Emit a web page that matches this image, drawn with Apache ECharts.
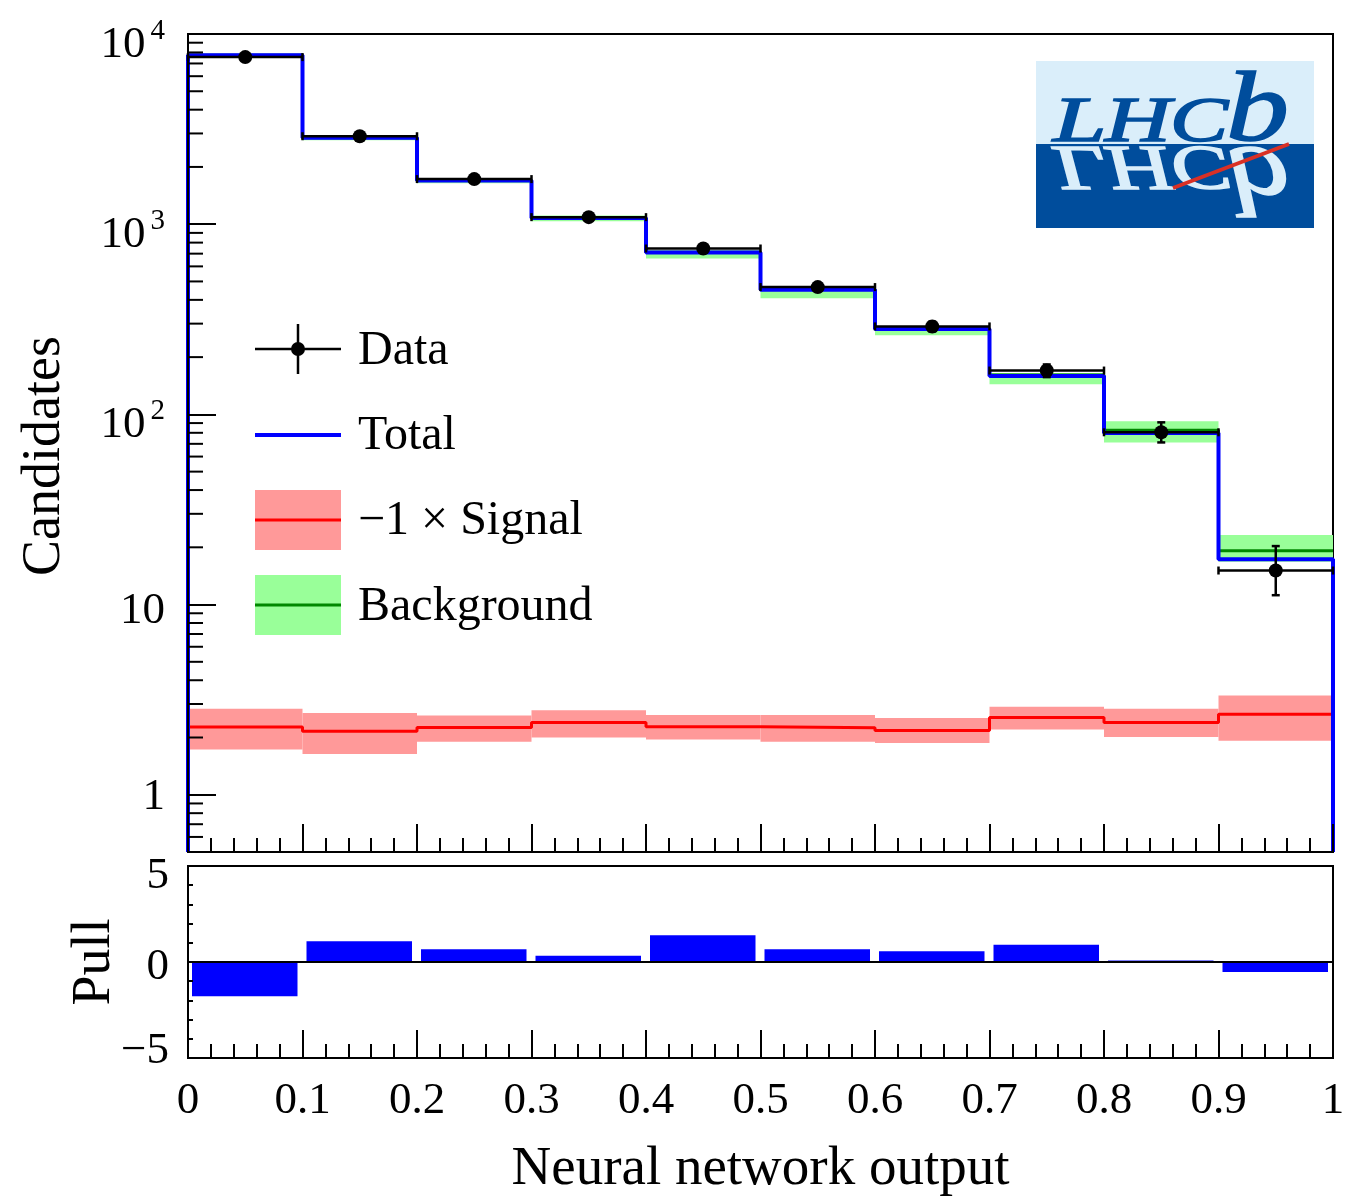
<!DOCTYPE html>
<html><head><meta charset="utf-8">
<script src="https://cdn.jsdelivr.net/npm/echarts@6/dist/echarts.min.js"></script>
<style>html,body{margin:0;padding:0;background:#fff}#c{width:1359px;height:1197px}</style>
</head><body><div id="c"></div>
<script>
const binEdges = [0, 0.1, 0.2, 0.3, 0.4, 0.5, 0.6, 0.7, 0.8, 0.9, 1.0];
const dataValues = [7560, 2900, 1726, 1089, 745, 467, 290, 170, 80.5, 15.1];
const dataErrLow = [7473, 2846, 1685, 1056, 718, 445, 273, 157, 71.2, 11.2];
const dataErrHigh = [7647, 2954, 1767, 1122, 772, 489, 307, 183, 90.8, 20.3];
const totalValues = [7720, 2848, 1698, 1077, 710, 452, 281, 159, 79.8, 17.3];
const backgroundValues = [7722, 2850, 1700, 1079, 712, 454, 283, 161, 82.4, 19.2];
const backgroundLow = [7570, 2760, 1640, 1035, 660, 408, 261, 144, 71.2, 16.8];
const backgroundHigh = [7880, 2930, 1750, 1110, 730, 466, 290, 165, 92, 23.2];
const signalValues = [2.27, 2.16, 2.26, 2.40, 2.28, 2.25, 2.18, 2.55, 2.40, 2.65];
const signalLow = [1.73, 1.64, 1.90, 2.00, 1.95, 1.90, 1.87, 2.20, 2.01, 1.92];
const signalHigh = [2.83, 2.69, 2.61, 2.78, 2.63, 2.63, 2.53, 2.90, 2.83, 3.33];
const pullValues = [-1.78, 1.08, 0.67, 0.33, 1.39, 0.66, 0.56, 0.90, 0.08, -0.52];
const xTickLabels = ['0', '0.1', '0.2', '0.3', '0.4', '0.5', '0.6', '0.7', '0.8', '0.9', '1'];
const yMinorTicks = [0.6, 0.7, 0.8, 0.9, 2, 3, 4, 5, 6, 7, 8, 9, 20, 30, 40, 50, 60, 70, 80, 90,
  200, 300, 400, 500, 600, 700, 800, 900, 2000, 3000, 4000, 5000, 6000, 7000, 8000, 9000];
const yMin = 0.5, yMax = 10000;

const FONT = '"Liberation Serif", "Times New Roman", serif';

function stepPoints(vals, drop) {
  const pts = [];
  if (drop) pts.push([binEdges[0], yMin]);
  for (let i = 0; i < vals.length; i++) {
    pts.push([binEdges[i], vals[i]]);
    pts.push([binEdges[i + 1], vals[i]]);
  }
  if (drop) pts.push([binEdges[vals.length], yMin]);
  return pts;
}
function bandData(lo, hi) {
  return lo.map((l, i) => [binEdges[i], binEdges[i + 1], l, hi[i]]);
}
function bandRender(color) {
  return function (params, api) {
    const p1 = api.coord([api.value(0), api.value(3)]);
    const p2 = api.coord([api.value(1), api.value(2)]);
    return { type: 'rect', shape: { x: p1[0], y: p1[1], width: p2[0] - p1[0], height: p2[1] - p1[1] }, style: { fill: color } };
  };
}

const chart = echarts.init(document.getElementById('c'), null, { renderer: 'canvas' });

const axisCommon = {
  axisLine: { show: true, onZero: false, lineStyle: { color: '#000', width: 2 } },
  axisTick: { show: true, inside: true, length: 28, lineStyle: { color: '#000', width: 2 } },
  splitLine: { show: false },
  z: 10
};

function logoLetter(ch, x, size, sx, yMid, color, mirror) {
  return { type: 'text', z: 101, x: x, y: 0, scaleX: sx, scaleY: mirror ? -1 : 1, originX: 0, originY: 144,
    style: { text: ch, x: 0, y: yMid, font: 'italic ' + size + 'px ' + FONT, fill: color,
      stroke: color, lineWidth: 1.6,
      textVerticalAlign: 'middle', verticalAlign: 'middle' } };
}
const logoDark = '#004d9c', logoLight = '#daeefa';

const option = {
  animation: false,
  backgroundColor: '#fff',
  grid: [
    { left: 188, top: 34, width: 1145, height: 818, show: true, borderColor: '#000', borderWidth: 2, containLabel: false, outerBoundsMode: 'none' },
    { left: 188, top: 866, width: 1145, height: 192, show: true, borderColor: '#000', borderWidth: 2, containLabel: false, outerBoundsMode: 'none' }
  ],
  xAxis: [
    Object.assign({}, axisCommon, {
      gridIndex: 0, type: 'value', min: 0, max: 1, interval: 0.1,
      axisLabel: { show: false },
      minorTick: { show: true, splitNumber: 5, length: 14, lineStyle: { color: '#000', width: 2 } }
    }),
    Object.assign({}, axisCommon, {
      gridIndex: 1, type: 'value', min: 0, max: 1, interval: 0.1,
      axisLabel: {
        show: true, margin: 21, color: '#000', fontSize: 45, fontFamily: FONT,
        formatter: v => xTickLabels[Math.round(v * 10)]
      },
      minorTick: { show: true, splitNumber: 5, length: 14, lineStyle: { color: '#000', width: 2 } },
      name: 'Neural network output', nameLocation: 'middle', nameGap: 84, nameMoveOverlap: false,
      nameTextStyle: { fontSize: 55, fontFamily: FONT, color: '#000' }
    })
  ],
  yAxis: [
    Object.assign({}, axisCommon, {
      gridIndex: 0, type: 'log', logBase: 10, min: yMin, max: yMax,
      axisLabel: {
        show: true, margin: 23, color: '#000', fontFamily: FONT, fontSize: 45,
        formatter: function (v) {
          const l = Math.log10(v), e = Math.round(l);
          if (Math.abs(l - e) > 1e-6) return '';
          if (e === 0) return '{o|1}';
          if (e === 1) return '{t|10}';
          return '{b|10}{s|' + e + '}';
        },
        rich: {
          o: { fontSize: 45, fontFamily: FONT, color: '#000', padding: [5, 0, 0, 0] },
          t: { fontSize: 45, fontFamily: FONT, color: '#000', padding: [14, 0, 0, 0] },
          b: { fontSize: 45, fontFamily: FONT, color: '#000', lineHeight: 45, padding: [22, 0, 0, 0] },
          s: { fontSize: 29, fontFamily: FONT, color: '#000', lineHeight: 29, padding: [5, 0, 0, 5], verticalAlign: 'top' }
        }
      },
      name: 'Candidates', nameLocation: 'middle', nameRotate: 90, nameGap: 116, nameMoveOverlap: false,
      nameTextStyle: { fontSize: 54, fontFamily: FONT, color: '#000', padding: [0, 26, 0, 0] }
    }),
    Object.assign({}, axisCommon, {
      gridIndex: 1, type: 'value', min: -5, max: 5, interval: 5,
      axisTick: { show: true, inside: true, length: 7, lineStyle: { color: '#000', width: 2 } },
      minorTick: { show: true, splitNumber: 5, length: 5, lineStyle: { color: '#000', width: 2 } },
      axisLabel: {
        show: true, margin: 19, color: '#000', fontFamily: FONT, fontSize: 45,
        formatter: v => v > 0 ? '{p|5}' : (v < 0 ? '{m|\u22125}' : '{z|0}'),
        rich: {
          p: { fontSize: 45, fontFamily: FONT, color: '#000', padding: [20, 0, 0, 0] },
          z: { fontSize: 45, fontFamily: FONT, color: '#000', padding: [10, 0, 0, 0] },
          m: { fontSize: 45, fontFamily: FONT, color: '#000', padding: [0, 0, 14, 0] }
        }
      },
      name: 'Pull', nameLocation: 'middle', nameRotate: 90, nameGap: 66, nameMoveOverlap: false,
      nameTextStyle: { fontSize: 54, fontFamily: FONT, color: '#000' }
    })
  ],
  series: [
    { name: 'SignalBand', type: 'custom', xAxisIndex: 0, yAxisIndex: 0, z: 2, clip: false,
      renderItem: bandRender('#ff9999'), encode: { x: [0, 1], y: [2, 3] }, data: bandData(signalLow, signalHigh) },
    { name: 'BackgroundBand', type: 'custom', xAxisIndex: 0, yAxisIndex: 0, z: 2, clip: false,
      renderItem: bandRender('#99ff99'), encode: { x: [0, 1], y: [2, 3] }, data: bandData(backgroundLow, backgroundHigh) },
    { name: 'Signal', type: 'line', xAxisIndex: 0, yAxisIndex: 0, z: 3, symbol: 'none', clip: false,
      lineStyle: { color: '#ff0000', width: 3 }, data: stepPoints(signalValues, false) },
    { name: 'Background', type: 'line', xAxisIndex: 0, yAxisIndex: 0, z: 3, symbol: 'none', clip: false,
      lineStyle: { color: '#008800', width: 3 }, data: stepPoints(backgroundValues, false) },
    { name: 'Total', type: 'line', xAxisIndex: 0, yAxisIndex: 0, z: 4, symbol: 'none', clip: false,
      lineStyle: { color: '#0000ff', width: 4 }, data: stepPoints(totalValues, true) },
    { name: 'DataErr', type: 'custom', xAxisIndex: 0, yAxisIndex: 0, z: 5, clip: false,
      encode: { x: 0, y: 1 },
      data: dataValues.map((v, i) => [(binEdges[i] + binEdges[i + 1]) / 2, v, dataErrLow[i], dataErrHigh[i], binEdges[i], binEdges[i + 1]]),
      renderItem: function (params, api) {
        const x = api.value(0), y = api.value(1);
        const c = api.coord([x, y]);
        const cl = api.coord([api.value(4), y]), ch = api.coord([api.value(5), y]);
        const pLo = api.coord([x, api.value(2)]), pHi = api.coord([x, api.value(3)]);
        const st = { stroke: '#000', lineWidth: 2.5 };
        return { type: 'group', children: [
          { type: 'line', shape: { x1: cl[0], y1: c[1], x2: ch[0], y2: c[1] }, style: st },
          { type: 'line', shape: { x1: cl[0], y1: c[1] - 4, x2: cl[0], y2: c[1] + 4 }, style: st },
          { type: 'line', shape: { x1: ch[0], y1: c[1] - 4, x2: ch[0], y2: c[1] + 4 }, style: st },
          { type: 'line', shape: { x1: c[0], y1: pLo[1], x2: c[0], y2: pHi[1] }, style: st },
          { type: 'line', shape: { x1: c[0] - 4, y1: pLo[1], x2: c[0] + 4, y2: pLo[1] }, style: st },
          { type: 'line', shape: { x1: c[0] - 4, y1: pHi[1], x2: c[0] + 4, y2: pHi[1] }, style: st }
        ] };
      } },
    { name: 'Data', type: 'scatter', xAxisIndex: 0, yAxisIndex: 0, z: 6, symbol: 'circle', symbolSize: 14,
      itemStyle: { color: '#000', opacity: 1 },
      data: dataValues.map((v, i) => [(binEdges[i] + binEdges[i + 1]) / 2, v]) },
    { name: 'MinorTicks', type: 'custom', xAxisIndex: 0, yAxisIndex: 0, z: 11, clip: false,
      encode: { x: 0, y: 1 },
      data: yMinorTicks.map(v => [0, v]),
      renderItem: function (params, api) {
        const p = api.coord([0, api.value(1)]);
        return { type: 'line', shape: { x1: p[0], y1: p[1], x2: p[0] + 15, y2: p[1] }, style: { stroke: '#000', lineWidth: 2 } };
      } },
    { name: 'Pull', type: 'custom', xAxisIndex: 1, yAxisIndex: 1, z: 3, clip: false,
      encode: { x: [0, 1], y: 2 },
      data: pullValues.map((v, i) => [binEdges[i], binEdges[i + 1], v]),
      renderItem: function (params, api) {
        const a = api.coord([api.value(0), 0]);
        const b = api.coord([api.value(1), api.value(2)]);
        const x1 = a[0] + 4, x2 = b[0] - 5;
        const y1 = Math.min(a[1], b[1]), y2 = Math.max(a[1], b[1]);
        return { type: 'rect', shape: { x: x1, y: y1, width: x2 - x1, height: y2 - y1 }, style: { fill: '#0000ff' } };
      } },
    { name: 'Zero', type: 'line', xAxisIndex: 1, yAxisIndex: 1, z: 4, symbol: 'none',
      lineStyle: { color: '#000', width: 2 }, data: [[0, 0], [1, 0]] }
  ],
  graphic: {
    elements: [
      // Legend
      { type: 'line', z: 100, shape: { x1: 255, y1: 349, x2: 341, y2: 349 }, style: { stroke: '#000', lineWidth: 2.5 } },
      { type: 'line', z: 100, shape: { x1: 298, y1: 324, x2: 298, y2: 374 }, style: { stroke: '#000', lineWidth: 2.5 } },
      { type: 'circle', z: 101, shape: { cx: 298, cy: 349, r: 7 }, style: { fill: '#000' } },
      { type: 'text', z: 100, style: { text: 'Data', x: 358, y: 351, font: '48px ' + FONT, fill: '#000', textVerticalAlign: 'middle', verticalAlign: 'middle' } },
      { type: 'line', z: 100, shape: { x1: 255, y1: 435, x2: 341, y2: 435 }, style: { stroke: '#0000ff', lineWidth: 4 } },
      { type: 'text', z: 100, style: { text: 'Total', x: 358, y: 436, font: '48px ' + FONT, fill: '#000', textVerticalAlign: 'middle', verticalAlign: 'middle' } },
      { type: 'rect', z: 100, shape: { x: 255, y: 490, width: 86, height: 60 }, style: { fill: '#ff9999' } },
      { type: 'line', z: 101, shape: { x1: 255, y1: 520, x2: 341, y2: 520 }, style: { stroke: '#ff0000', lineWidth: 3 } },
      { type: 'text', z: 100, style: { text: '\u22121 \u00d7 Signal', x: 358, y: 521, font: '48px ' + FONT, fill: '#000', textVerticalAlign: 'middle', verticalAlign: 'middle' } },
      { type: 'rect', z: 100, shape: { x: 255, y: 575, width: 86, height: 60 }, style: { fill: '#99ff99' } },
      { type: 'line', z: 101, shape: { x1: 255, y1: 605, x2: 341, y2: 605 }, style: { stroke: '#008800', lineWidth: 3 } },
      { type: 'text', z: 100, style: { text: 'Background', x: 358, y: 607, font: '48px ' + FONT, fill: '#000', textVerticalAlign: 'middle', verticalAlign: 'middle' } },
      // LHCb logo
      { type: 'rect', z: 100, shape: { x: 1036, y: 61, width: 278, height: 83 }, style: { fill: logoLight } },
      { type: 'rect', z: 100, shape: { x: 1036, y: 144, width: 278, height: 84 }, style: { fill: logoDark } },
      logoLetter('L', 1053, 64, 1.5, 124.5, logoDark, false),
      logoLetter('H', 1105, 64, 1.42, 124.5, logoDark, false),
      logoLetter('C', 1170, 64, 1.36, 124.5, logoDark, false),
      logoLetter('b', 1226, 100, 1.26, 113.5, logoDark, false),
      logoLetter('L', 1053, 64, 1.5, 124.5, logoLight, true),
      logoLetter('H', 1105, 64, 1.42, 124.5, logoLight, true),
      logoLetter('C', 1170, 64, 1.36, 124.5, logoLight, true),
      logoLetter('b', 1226, 100, 1.26, 113.5, logoLight, true),
      { type: 'line', z: 102, shape: { x1: 1173, y1: 188, x2: 1289, y2: 144 }, style: { stroke: '#d93025', lineWidth: 4 } }
    ]
  }
};
chart.setOption(option);
</script>
</body></html>
